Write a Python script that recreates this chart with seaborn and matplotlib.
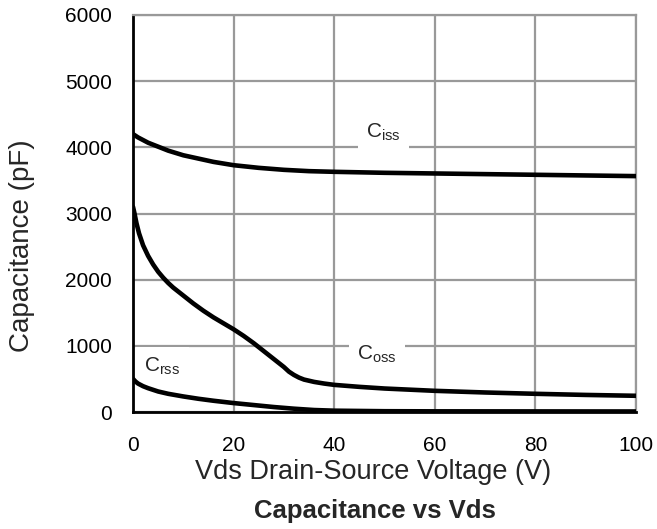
import matplotlib
matplotlib.use("Agg")
import matplotlib.pyplot as plt
import seaborn as sns
import pandas as pd

vds_ciss = [0, 1, 2, 3, 5, 7, 10, 13, 16, 20, 25, 30, 35, 40, 50, 60, 70, 80, 90, 100]
ciss = [4200, 4150, 4110, 4070, 4010, 3950, 3880, 3830, 3780, 3730, 3690, 3660, 3640, 3630,
        3615, 3605, 3595, 3585, 3575, 3565]

vds_coss = [0, 0.3, 0.7, 1.2, 2, 3, 4, 5, 6, 7, 8, 10, 12, 14, 16, 18, 20, 22, 24, 26, 28,
            30, 31, 32, 33, 34, 36, 38, 40, 45, 50, 60, 70, 80, 90, 100]
coss = [3100, 3000, 2850, 2700, 2520, 2360, 2230, 2120, 2030, 1950, 1880, 1760, 1640, 1530,
        1430, 1340, 1250, 1150, 1040, 920, 800, 680, 610, 560, 520, 490, 455, 430, 410, 380,
        355, 320, 295, 275, 258, 245]

vds_crss = [0, 0.5, 1, 2, 3, 5, 7, 10, 13, 16, 20, 24, 28, 32, 36, 40, 50, 60, 100]
crss = [500, 460, 430, 390, 360, 310, 275, 235, 200, 170, 135, 105, 75, 50, 30, 20, 12, 10, 8]

labels = ["$C_{iss}$", "$C_{oss}$", "$C_{rss}$"]
label_pos = [(49.8, 4220), (48.5, 870), (5.8, 690)]

sns.set_theme(style="white")
plt.rcParams['font.family'] = ['Liberation Sans', 'DejaVu Sans']
plt.rcParams['mathtext.fontset'] = 'custom'
plt.rcParams['mathtext.rm'] = 'Liberation Sans'
plt.rcParams['mathtext.it'] = 'Liberation Sans'

W, H = 657, 529
fig = plt.figure(figsize=(6.57, 5.29), dpi=100)
ax = fig.add_axes([133 / W, 1 - 412 / H, 503 / W, 397 / H])

for xs, ys in [(vds_ciss, ciss), (vds_coss, coss), (vds_crss, crss)]:
    df = pd.DataFrame({"V": xs, "C": ys})
    sns.lineplot(data=df, x="V", y="C", ax=ax, color="black", linewidth=3.3, zorder=3)

ax.set_xlim(0, 100)
ax.set_ylim(0, 6000)
ax.set_xticks([0, 20, 40, 60, 80, 100])
ax.set_yticks([0, 1000, 2000, 3000, 4000, 5000, 6000])
ax.grid(True, color="#999999", linewidth=1.6)
ax.set_axisbelow(True)
for s in ["top", "right"]:
    ax.spines[s].set_color("#999999")
    ax.spines[s].set_linewidth(1.6)
for s in ["left", "bottom"]:
    ax.spines[s].set_color("black")
    ax.spines[s].set_linewidth(2)
ax.tick_params(axis="x", length=0, pad=17, labelsize=15, colors="black")
ax.tick_params(axis="y", length=0, pad=15, labelsize=15, colors="black")
ax.set_xlabel("")
ax.set_ylabel("")

for txt, (x, y) in zip(labels, label_pos):
    ax.text(x, y, txt, fontsize=15, ha="center", va="center", zorder=2,
            bbox=dict(facecolor="white", edgecolor="none", pad=6))

fig.text(373 / W, 1 - 479 / H, "Vds Drain-Source Voltage (V)", ha="center", va="baseline",
         fontsize=19.5)
fig.text(22 / W, 1 - 246 / H, "Capacitance (pF)", ha="center", va="center",
         rotation=90, fontsize=20)
fig.text(374.5 / W, 1 - 518 / H, "Capacitance vs Vds", ha="center", va="baseline",
         fontsize=18.5, fontweight="bold")

fig.savefig("out.png", dpi=100)
